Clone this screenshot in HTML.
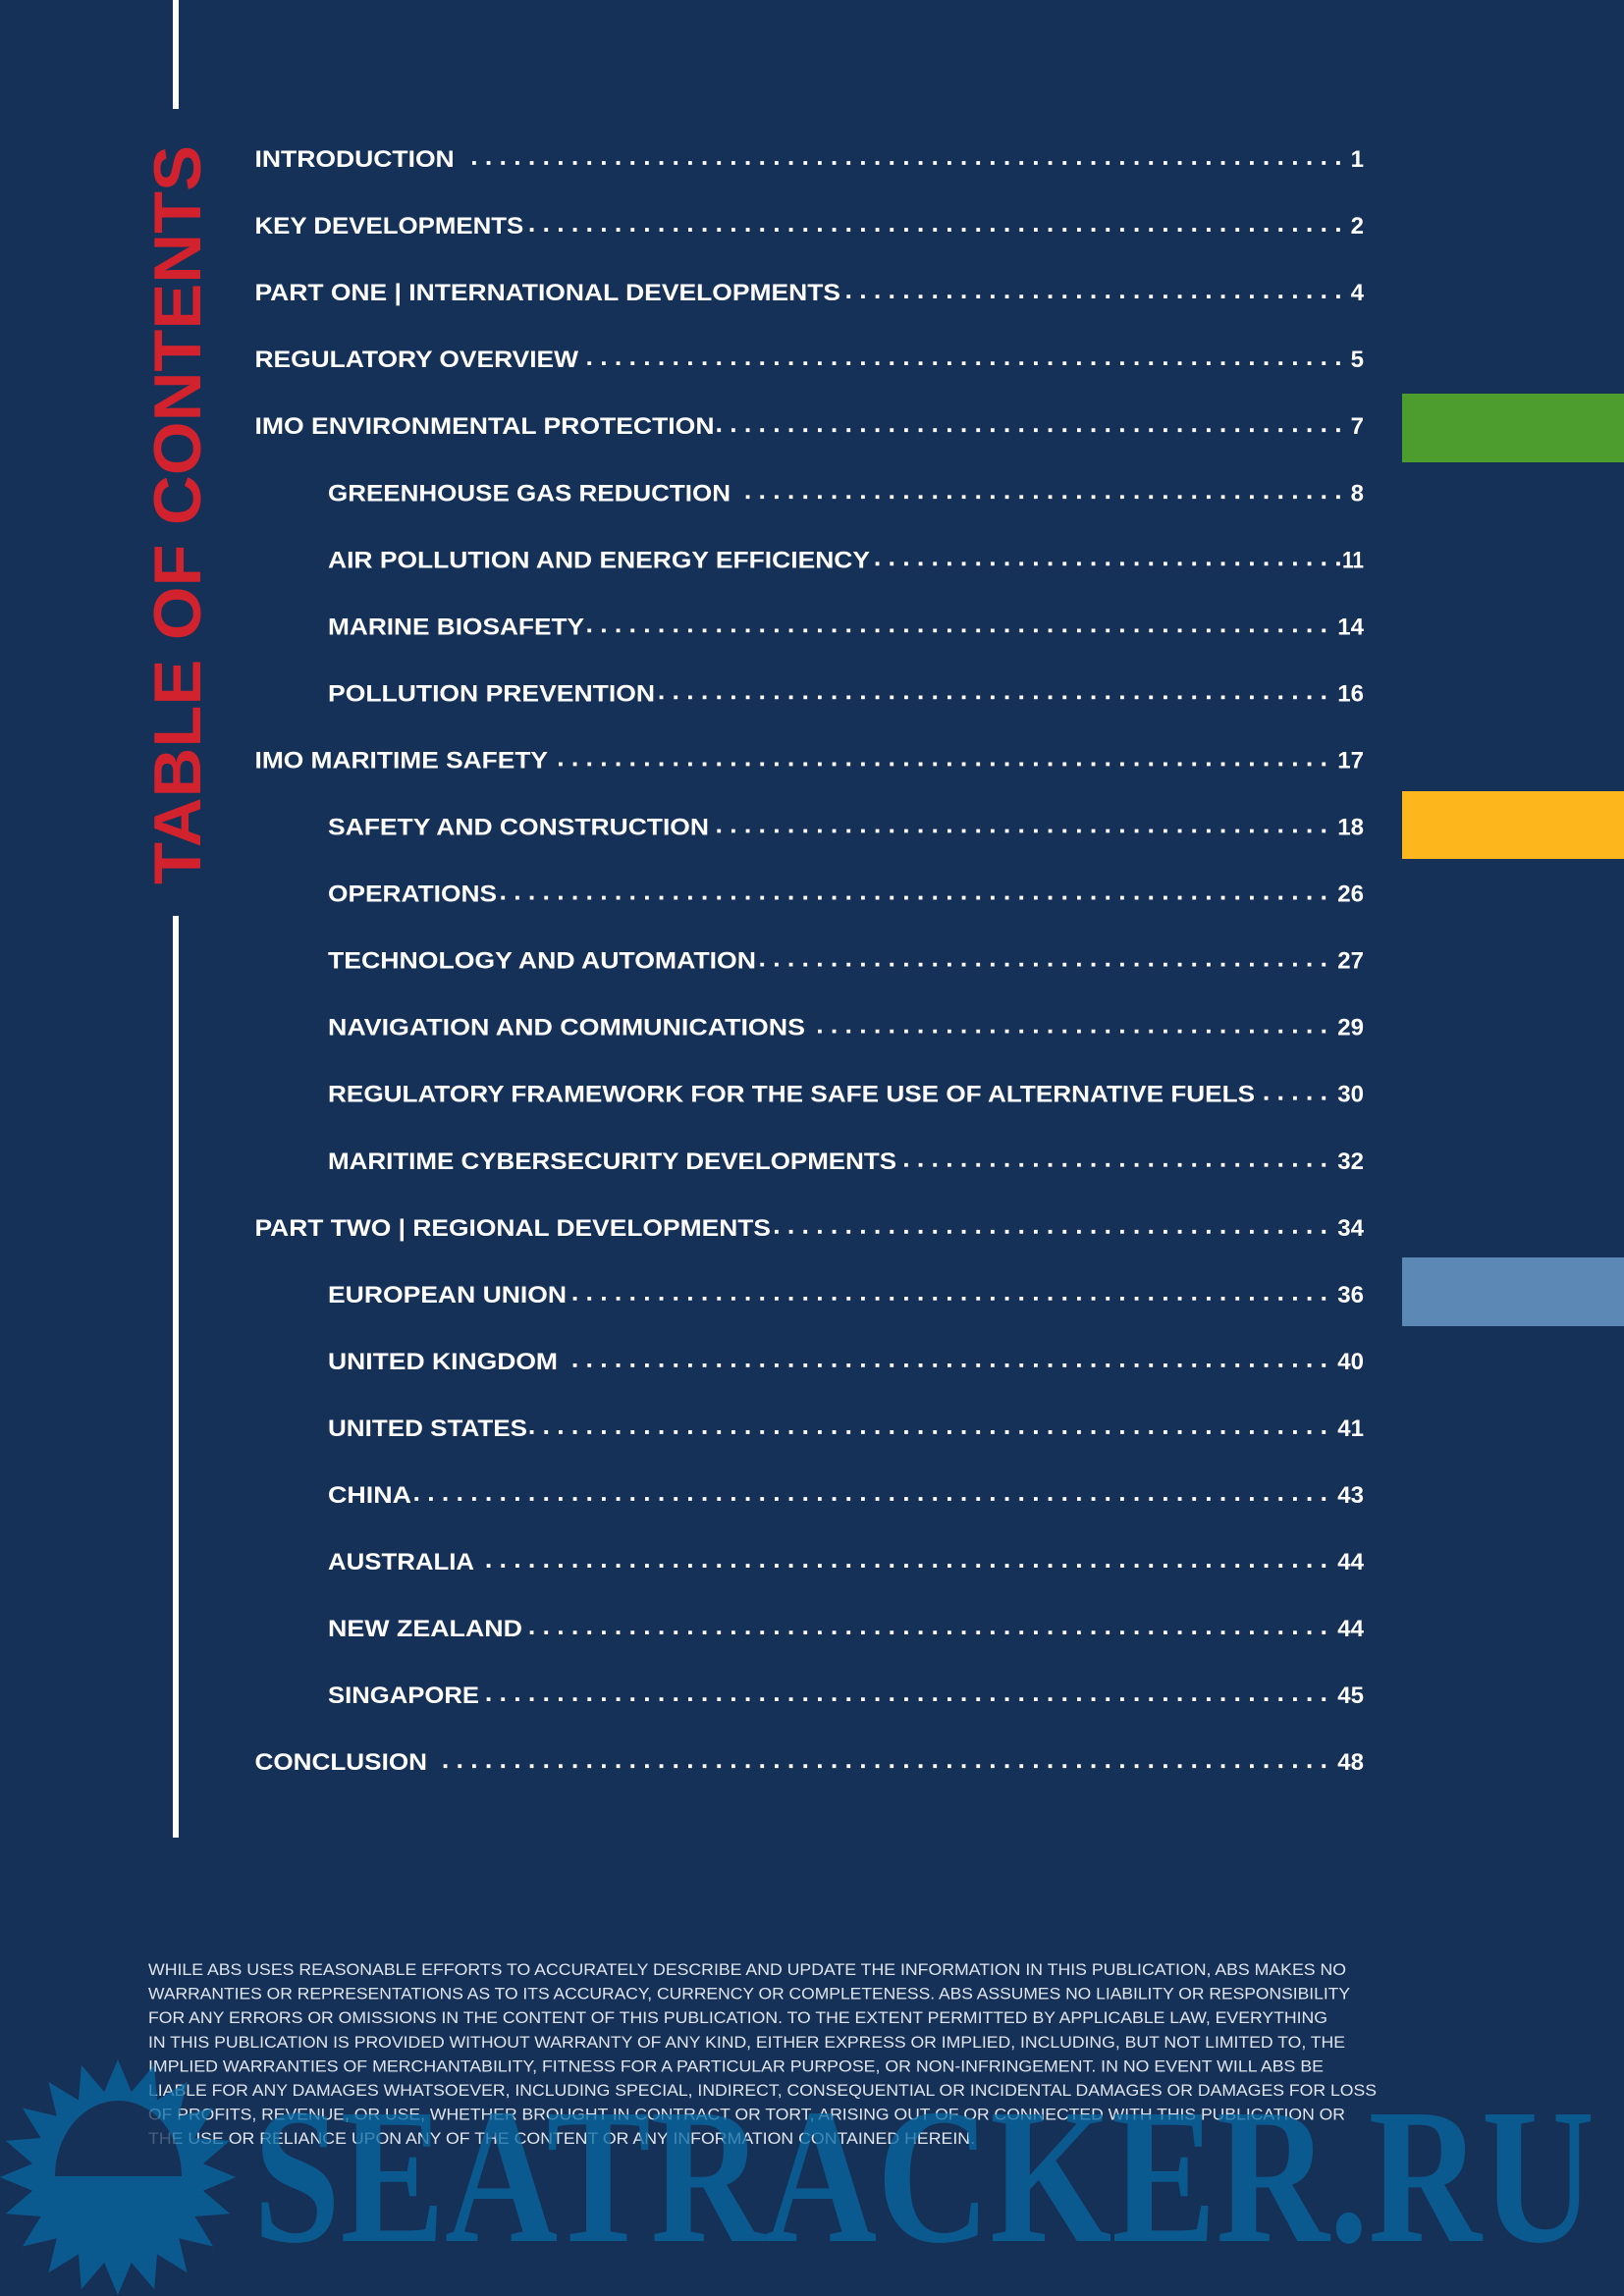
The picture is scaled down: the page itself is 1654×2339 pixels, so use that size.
<!DOCTYPE html>
<html>
<head>
<meta charset="utf-8">
<style>
  html, body { margin: 0; padding: 0; background: #163157; }
  svg { display: block; }
  .lbl { font-family: "Liberation Sans", sans-serif; font-weight: bold; font-size: 24px; fill: #ffffff; }
  .num { font-family: "Liberation Sans", sans-serif; font-weight: bold; font-size: 24px; fill: #ffffff; }
  .dots { stroke: #ffffff; stroke-width: 3.8; stroke-dasharray: 3.8 10.8667; }
  .disc { font-family: "Liberation Sans", sans-serif; font-size: 16.6px; fill: #dfe5ee; }
</style>
</head>
<body>
<svg width="1654" height="2339" viewBox="0 0 1654 2339" xmlns="http://www.w3.org/2000/svg">
  <rect x="0" y="0" width="1654" height="2339" fill="#163157"/>

  <!-- vertical white lines -->
  <rect x="176" y="0" width="6" height="111" fill="#ffffff"/>
  <rect x="176" y="933" width="6" height="939" fill="#ffffff"/>

  <!-- Title -->
  <text transform="translate(204 901) rotate(-90)" x="0" y="0" font-family="Liberation Sans, sans-serif" font-weight="bold" font-size="68" fill="#d2222e" textLength="753" lengthAdjust="spacingAndGlyphs">TABLE OF CONTENTS</text>

  <!-- colored bars -->
  <rect x="1428" y="401" width="226" height="70" fill="#4c9c2e"/>
  <rect x="1428" y="806" width="226" height="69" fill="#fdb61c"/>
  <rect x="1428" y="1281" width="226" height="70" fill="#5b88b5"/>

  <!-- dot leaders -->
  <line class="dots" x1="481" y1="166" x2="1364.8" y2="166"/>
  <line class="dots" x1="539.67" y1="234.05" x2="1364.8" y2="234.05"/>
  <line class="dots" x1="862.33" y1="302.1" x2="1364.8" y2="302.1"/>
  <line class="dots" x1="598.33" y1="370.15" x2="1364.8" y2="370.15"/>
  <line class="dots" x1="730.33" y1="438.2" x2="1364.8" y2="438.2"/>
  <line class="dots" x1="759.67" y1="506.25" x2="1364.8" y2="506.25"/>
  <line class="dots" x1="891.67" y1="574.3" x2="1364.8" y2="574.3"/>
  <line class="dots" x1="598.33" y1="642.35" x2="1350.2" y2="642.35"/>
  <line class="dots" x1="671.67" y1="710.4" x2="1350.2" y2="710.4"/>
  <line class="dots" x1="569" y1="778.45" x2="1350.2" y2="778.45"/>
  <line class="dots" x1="730.33" y1="846.5" x2="1350.2" y2="846.5"/>
  <line class="dots" x1="510.33" y1="914.55" x2="1350.2" y2="914.55"/>
  <line class="dots" x1="774.33" y1="982.6" x2="1350.2" y2="982.6"/>
  <line class="dots" x1="833" y1="1050.65" x2="1350.2" y2="1050.65"/>
  <line class="dots" x1="1287.67" y1="1118.7" x2="1350.2" y2="1118.7"/>
  <line class="dots" x1="921" y1="1186.75" x2="1350.2" y2="1186.75"/>
  <line class="dots" x1="789" y1="1254.8" x2="1350.2" y2="1254.8"/>
  <line class="dots" x1="583.67" y1="1322.85" x2="1350.2" y2="1322.85"/>
  <line class="dots" x1="583.67" y1="1390.9" x2="1350.2" y2="1390.9"/>
  <line class="dots" x1="539.67" y1="1458.95" x2="1350.2" y2="1458.95"/>
  <line class="dots" x1="422.33" y1="1527" x2="1350.2" y2="1527"/>
  <line class="dots" x1="495.67" y1="1595.05" x2="1350.2" y2="1595.05"/>
  <line class="dots" x1="539.67" y1="1663.1" x2="1350.2" y2="1663.1"/>
  <line class="dots" x1="495.67" y1="1731.15" x2="1350.2" y2="1731.15"/>
  <line class="dots" x1="451.67" y1="1799.2" x2="1350.2" y2="1799.2"/>

  <!-- labels -->
  <g>
  <text class="lbl" x="259.5" y="170" textLength="203.2" lengthAdjust="spacingAndGlyphs">INTRODUCTION</text>
  <text class="lbl" x="259.5" y="238.05" textLength="273.8" lengthAdjust="spacingAndGlyphs">KEY DEVELOPMENTS</text>
  <text class="lbl" x="259.5" y="306.1" textLength="596.5" lengthAdjust="spacingAndGlyphs">PART ONE | INTERNATIONAL DEVELOPMENTS</text>
  <text class="lbl" x="259.5" y="374.15" textLength="329.5" lengthAdjust="spacingAndGlyphs">REGULATORY OVERVIEW</text>
  <text class="lbl" x="259.5" y="442.2" textLength="468" lengthAdjust="spacingAndGlyphs">IMO ENVIRONMENTAL PROTECTION</text>
  <text class="lbl" x="334" y="510.25" textLength="410" lengthAdjust="spacingAndGlyphs">GREENHOUSE GAS REDUCTION</text>
  <text class="lbl" x="334" y="578.3" textLength="552" lengthAdjust="spacingAndGlyphs">AIR POLLUTION AND ENERGY EFFICIENCY</text>
  <text class="lbl" x="334" y="646.35" textLength="261" lengthAdjust="spacingAndGlyphs">MARINE BIOSAFETY</text>
  <text class="lbl" x="334" y="714.4" textLength="333" lengthAdjust="spacingAndGlyphs">POLLUTION PREVENTION</text>
  <text class="lbl" x="259.5" y="782.45" textLength="298.5" lengthAdjust="spacingAndGlyphs">IMO MARITIME SAFETY</text>
  <text class="lbl" x="334" y="850.5" textLength="388" lengthAdjust="spacingAndGlyphs">SAFETY AND CONSTRUCTION</text>
  <text class="lbl" x="334" y="918.55" textLength="172" lengthAdjust="spacingAndGlyphs">OPERATIONS</text>
  <text class="lbl" x="334" y="986.6" textLength="436" lengthAdjust="spacingAndGlyphs">TECHNOLOGY AND AUTOMATION</text>
  <text class="lbl" x="334" y="1054.65" textLength="486" lengthAdjust="spacingAndGlyphs">NAVIGATION AND COMMUNICATIONS</text>
  <text class="lbl" x="334" y="1122.7" textLength="944" lengthAdjust="spacingAndGlyphs">REGULATORY FRAMEWORK FOR THE SAFE USE OF ALTERNATIVE FUELS</text>
  <text class="lbl" x="334" y="1190.75" textLength="579" lengthAdjust="spacingAndGlyphs">MARITIME CYBERSECURITY DEVELOPMENTS</text>
  <text class="lbl" x="259.5" y="1258.8" textLength="525.5" lengthAdjust="spacingAndGlyphs">PART TWO | REGIONAL DEVELOPMENTS</text>
  <text class="lbl" x="334" y="1326.85" textLength="243" lengthAdjust="spacingAndGlyphs">EUROPEAN UNION</text>
  <text class="lbl" x="334" y="1394.9" textLength="234" lengthAdjust="spacingAndGlyphs">UNITED KINGDOM</text>
  <text class="lbl" x="334" y="1462.95" textLength="203" lengthAdjust="spacingAndGlyphs">UNITED STATES</text>
  <text class="lbl" x="334" y="1531" textLength="85" lengthAdjust="spacingAndGlyphs">CHINA</text>
  <text class="lbl" x="334" y="1599.05" textLength="149" lengthAdjust="spacingAndGlyphs">AUSTRALIA</text>
  <text class="lbl" x="334" y="1667.1" textLength="198" lengthAdjust="spacingAndGlyphs">NEW ZEALAND</text>
  <text class="lbl" x="334" y="1735.15" textLength="154" lengthAdjust="spacingAndGlyphs">SINGAPORE</text>
  <text class="lbl" x="259.5" y="1803.2" textLength="175.5" lengthAdjust="spacingAndGlyphs">CONCLUSION</text>
  </g>

  <!-- page numbers -->
  <g text-anchor="end">
    <text class="num" x="1389" y="170">1</text>
    <text class="num" x="1389" y="238.05">2</text>
    <text class="num" x="1389" y="306.1">4</text>
    <text class="num" x="1389" y="374.15">5</text>
    <text class="num" x="1389" y="442.2">7</text>
    <text class="num" x="1389" y="510.25">8</text>
    <text class="num" x="1389" y="646.35">14</text>
    <text class="num" x="1389" y="714.4">16</text>
    <text class="num" x="1389" y="782.45">17</text>
    <text class="num" x="1389" y="850.5">18</text>
    <text class="num" x="1389" y="918.55">26</text>
    <text class="num" x="1389" y="986.6">27</text>
    <text class="num" x="1389" y="1054.65">29</text>
    <text class="num" x="1389" y="1122.7">30</text>
    <text class="num" x="1389" y="1190.75">32</text>
    <text class="num" x="1389" y="1258.8">34</text>
    <text class="num" x="1389" y="1326.85">36</text>
    <text class="num" x="1389" y="1394.9">40</text>
    <text class="num" x="1389" y="1462.95">41</text>
    <text class="num" x="1389" y="1531">43</text>
    <text class="num" x="1389" y="1599.05">44</text>
    <text class="num" x="1389" y="1667.1">44</text>
    <text class="num" x="1389" y="1735.15">45</text>
    <text class="num" x="1389" y="1803.2">48</text>
  </g>
  <text class="num" x="1367" y="578.3" textLength="22" lengthAdjust="spacingAndGlyphs">11</text>

  <!-- disclaimer -->
  <text class="disc" x="151" y="2012" textLength="1220" lengthAdjust="spacingAndGlyphs">WHILE ABS USES REASONABLE EFFORTS TO ACCURATELY DESCRIBE AND UPDATE THE INFORMATION IN THIS PUBLICATION, ABS MAKES NO</text>
  <text class="disc" x="151" y="2036.6" textLength="1224" lengthAdjust="spacingAndGlyphs">WARRANTIES OR REPRESENTATIONS AS TO ITS ACCURACY, CURRENCY OR COMPLETENESS. ABS ASSUMES NO LIABILITY OR RESPONSIBILITY</text>
  <text class="disc" x="151" y="2061.2" textLength="1201" lengthAdjust="spacingAndGlyphs">FOR ANY ERRORS OR OMISSIONS IN THE CONTENT OF THIS PUBLICATION. TO THE EXTENT PERMITTED BY APPLICABLE LAW, EVERYTHING</text>
  <text class="disc" x="151" y="2085.8" textLength="1219" lengthAdjust="spacingAndGlyphs">IN THIS PUBLICATION IS PROVIDED WITHOUT WARRANTY OF ANY KIND, EITHER EXPRESS OR IMPLIED, INCLUDING, BUT NOT LIMITED TO, THE</text>
  <text class="disc" x="151" y="2110.4" textLength="1197" lengthAdjust="spacingAndGlyphs">IMPLIED WARRANTIES OF MERCHANTABILITY, FITNESS FOR A PARTICULAR PURPOSE, OR NON-INFRINGEMENT. IN NO EVENT WILL ABS BE</text>
  <text class="disc" x="151" y="2135" textLength="1251" lengthAdjust="spacingAndGlyphs">LIABLE FOR ANY DAMAGES WHATSOEVER, INCLUDING SPECIAL, INDIRECT, CONSEQUENTIAL OR INCIDENTAL DAMAGES OR DAMAGES FOR LOSS</text>
  <text class="disc" x="151" y="2159.6" textLength="1219" lengthAdjust="spacingAndGlyphs">OF PROFITS, REVENUE, OR USE, WHETHER BROUGHT IN CONTRACT OR TORT, ARISING OUT OF OR CONNECTED WITH THIS PUBLICATION OR</text>
  <text class="disc" x="151" y="2184.2" textLength="842" lengthAdjust="spacingAndGlyphs">THE USE OR RELIANCE UPON ANY OF THE CONTENT OR ANY INFORMATION CONTAINED HEREIN.</text>

  <!-- watermark -->
  <g opacity="0.75">
    <polygon fill="#0868a2" points="120,2098 133.8,2131.1 157.1,2103.9 160,2139.6 190.5,2120.9 182.2,2155.8 217.1,2147.5 198.4,2178 234.1,2180.9 206.9,2204.2 240,2218 206.9,2231.8 234.1,2255.1 198.4,2258 217.1,2288.5 182.2,2280.2 190.5,2315.1 160,2296.4 157.1,2332.1 133.8,2304.9 120,2338 106.2,2304.9 82.9,2332.1 80,2296.4 49.5,2315.1 57.8,2280.2 22.9,2288.5 41.6,2258 5.9,2255.1 33.1,2231.8 0,2218 33.1,2204.2 5.9,2180.9 41.6,2178 22.9,2147.5 57.8,2155.8 49.5,2120.9 80,2139.6 82.9,2103.9 106.2,2131.1"/>
    <path d="M56,2217 A64.5,77 0 0 1 185,2217 Z" fill="#163157"/>
    <text x="258" y="2283" font-family="Liberation Serif, serif" font-weight="bold" font-size="197" fill="#0868a2" textLength="1366" lengthAdjust="spacingAndGlyphs">SEATRACKER.RU</text>
  </g>
</svg>
</body>
</html>
